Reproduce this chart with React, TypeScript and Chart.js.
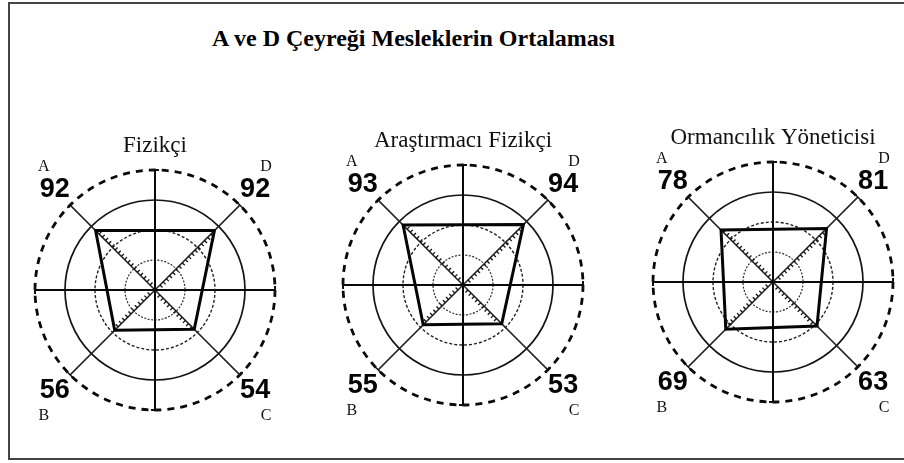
import React, { useEffect, useRef } from 'react';
import { Chart, registerables } from 'chart.js';

Chart.register(...registerables);

// ---------- data ----------
const mainTitle = 'A ve D Çeyreği Mesleklerin Ortalaması';
const professions = ['Fizikçi', 'Araştırmacı Fizikçi', 'Ormancılık Yöneticisi'];
// quadrant order: A (top-left), D (top-right), C (bottom-right), B (bottom-left)
const quadrants = ['A', 'D', 'C', 'B'];
const fizikciValues = [92, 92, 54, 56];
const arastirmaciValues = [93, 94, 53, 55];
const ormancilikValues = [78, 81, 63, 69];
const scaleMin = -20;
const scaleMax = 140;
const scaleStep = 40;

// 8 radial axes clockwise from the top; quadrant axes sit on the diagonals
const axisLabels = ['', quadrants[1], '', quadrants[2], '', quadrants[3], '', quadrants[0]];
const toAxisData = (v: number[]) => [null, v[1], null, v[2], null, v[3], null, v[0]];

const panels = [
  { name: professions[0], values: fizikciValues, cx: 155, cy: 290 },
  { name: professions[1], values: arastirmaciValues, cx: 463, cy: 285 },
  { name: professions[2], values: ormancilikValues, cx: 773, cy: 282 },
];

const CW = 300;
const CH = 310;

const ringStyle = (v: number) => {
  if (v === 20) return { color: '#2e2e2e', width: 1.2, dash: [2, 1.5] };
  if (v === 60) return { color: '#222222', width: 1.4, dash: [3, 2] };
  if (v === 100) return { color: '#141414', width: 1.7, dash: [] as number[] };
  if (v === 140) return { color: '#0a0a0a', width: 2.8, dash: [7, 6] };
  return { color: 'rgba(0,0,0,0)', width: 0, dash: [] as number[] };
};

const decorPlugin = {
  id: 'decor',
  afterDraw(chart: any) {
    const scale = chart.scales.r;
    const ctx: CanvasRenderingContext2D = chart.ctx;
    const data = chart.data.datasets[0].data as (number | null)[];
    const labels = chart.data.labels as string[];
    const R = scale.drawingArea;
    ctx.save();
    ctx.strokeStyle = '#111';
    ctx.lineCap = 'butt';
    // end caps of axis lines
    for (let i = 0; i < labels.length; i++) {
      const a = scale.getIndexAngle(i) - Math.PI / 2;
      const nx = -Math.sin(a);
      const ny = Math.cos(a);
      const p = scale.getPointPosition(i, R);
      ctx.lineWidth = i % 2 === 0 ? 2 : 1.5;
      ctx.beginPath();
      ctx.moveTo(p.x - nx * 4, p.y - ny * 4);
      ctx.lineTo(p.x + nx * 4, p.y + ny * 4);
      ctx.stroke();
    }
    // hatch marks along diagonals from the centre up to the value
    ctx.lineWidth = 1.3;
    for (let i = 0; i < labels.length; i++) {
      const v = data[i];
      if (v === null || v === undefined) continue;
      const rv = scale.getDistanceFromCenterForValue(v);
      const a = scale.getIndexAngle(i) - Math.PI / 2;
      const nx = -Math.sin(a);
      const ny = Math.cos(a);
      for (let d = 7; d < rv - 3; d += 4.5) {
        const p = scale.getPointPosition(i, d);
        ctx.beginPath();
        ctx.moveTo(p.x, p.y);
        ctx.lineTo(p.x + nx * 3.5, p.y + ny * 3.5);
        ctx.stroke();
      }
    }
    // value numbers and quadrant letters
    ctx.textAlign = 'center';
    ctx.textBaseline = 'middle';
    for (let i = 0; i < labels.length; i++) {
      const v = data[i];
      if (v === null || v === undefined) continue;
      const p = scale.getPointPosition(i, R * 1.18);
      const sx = Math.sign(p.x - scale.xCenter);
      const sy = Math.sign(p.y - scale.yCenter);
      ctx.fillStyle = '#050505';
      ctx.font = 'bold 27px "Liberation Sans", Arial, sans-serif';
      ctx.fillText(String(v), p.x, p.y);
      ctx.fillStyle = '#111';
      ctx.font = '16px "Liberation Serif", serif';
      ctx.fillText(labels[i], p.x + sx * 11, p.y + (sy < 0 ? -23 : 26));
    }
    ctx.restore();
  },
};

function RadarPanel({ name, values }: { name: string; values: number[] }) {
  const ref = useRef<HTMLCanvasElement | null>(null);
  useEffect(() => {
    if (!ref.current) return;
    const chart = new Chart(ref.current, {
      type: 'radar',
      data: {
        labels: axisLabels,
        datasets: [
          {
            data: toAxisData(values),
            borderColor: '#050505',
            borderWidth: 3,
            backgroundColor: 'rgba(0,0,0,0)',
            fill: false,
            spanGaps: true,
            pointRadius: 0,
            pointHoverRadius: 0,
            tension: 0,
          },
        ],
      },
      options: {
        responsive: false,
        animation: false,
        devicePixelRatio: 1,
        layout: { padding: { left: 30, right: 30, top: 0, bottom: 30 } },
        plugins: {
          legend: { display: false },
          tooltip: { enabled: false },
          title: {
            display: true,
            text: name,
            color: '#111',
            font: { family: '"Liberation Serif", serif', size: 23, weight: 'normal', lineHeight: 1.2 },
            padding: { top: 2, bottom: 10.4 },
          },
        },
        scales: {
          r: {
            min: scaleMin,
            max: scaleMax,
            startAngle: 0,
            ticks: { display: false, stepSize: scaleStep },
            pointLabels: { display: false },
            grid: {
              circular: true,
              color: (c: any) => ringStyle(c.tick.value).color,
              lineWidth: (c: any) => ringStyle(c.tick.value).width,
            },
            border: {
              dash: (c: any) => ringStyle(c.tick.value).dash,
            },
            angleLines: {
              color: (c: any) => (c.index % 2 === 0 ? '#0a0a0a' : '#222'),
              lineWidth: (c: any) => (c.index % 2 === 0 ? 2 : 1.5),
            },
          },
        },
      } as any,
      plugins: [decorPlugin],
    });
    return () => chart.destroy();
  }, [name, values]);
  return <canvas ref={ref} width={CW} height={CH} />;
}

export default function App() {
  return (
    <div style={{ position: 'absolute', left: 0, top: 0, width: 904, height: 463, background: '#fff', overflow: 'hidden' }}>
      <div
        style={{
          position: 'absolute',
          left: 8,
          top: 2,
          width: 904,
          height: 458,
          boxSizing: 'border-box',
          border: '2px solid #444',
        }}
      />
      <div
        style={{
          position: 'absolute',
          left: 212,
          top: 26,
          lineHeight: '24px',
          whiteSpace: 'nowrap',
          fontFamily: '"Liberation Serif", serif',
          fontWeight: 'bold',
          fontSize: 24,
          color: '#000',
        }}
      >
        {mainTitle}
      </div>
      {panels.map((p) => (
        <div key={p.name} style={{ position: 'absolute', left: p.cx - CW / 2, top: p.cy - 160, width: CW, height: CH }}>
          <RadarPanel name={p.name} values={p.values} />
        </div>
      ))}
    </div>
  );
}
